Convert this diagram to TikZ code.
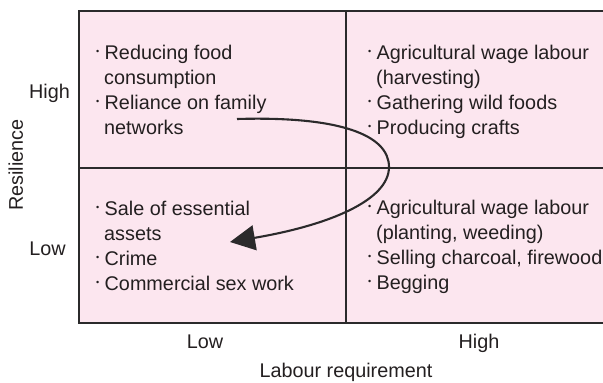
\documentclass[tikz,border=0pt]{standalone}
\usepackage{fontspec}
\setmainfont{Liberation Sans}
\usetikzlibrary{arrows.meta}
\definecolor{pinkfill}{HTML}{FCE6EF}
\definecolor{linegray}{HTML}{2B2A2B}
\definecolor{txt}{HTML}{231F20}
\newcommand{\bu}{\makebox[8.5pt][l]{\raisebox{4.5pt}{\fontsize{9}{9}\selectfont\textbullet}}}
\tikzset{
  lbl/.style={inner sep=0pt, text=txt, font=\fontsize{19.8}{19.8}\selectfont},
  line/.style={draw=linegray, line width=2.4pt},
  flow/.style={draw=linegray, line width=2.1pt, -{Triangle[length=25pt,width=25pt]}},
}
\begin{document}
\begin{tikzpicture}[x=1pt,y=-1pt]
\useasboundingbox (0,0) rectangle (603,383);
% panel
\fill[pinkfill] (79,11) rectangle (604,323);
\draw[line] (605,11) -- (79,11) -- (79,323) -- (605,323);
\draw[line] (346,11) -- (346,323);
\draw[line] (79,168) -- (605,168);
% top-left
\node[lbl, anchor=base west] (tl1) at (96,59) {\bu Reducing food};
\node[lbl, anchor=base west] (tl2) at (104,84) {consumption};
\node[lbl, anchor=base west] (tl3) at (96,109) {\bu Reliance on family};
\node[lbl, anchor=base west] (tl4) at (104,134) {networks};
% top-right
\node[lbl, anchor=base west] (tr1) at (368,59) {\bu Agricultural wage labour};
\node[lbl, anchor=base west] (tr2) at (376,84) {(harvesting)};
\node[lbl, anchor=base west] (tr3) at (368,109) {\bu Gathering wild foods};
\node[lbl, anchor=base west] (tr4) at (368,134) {\bu Producing crafts};
% bottom-left
\node[lbl, anchor=base west] (bl1) at (96,215) {\bu Sale of essential};
\node[lbl, anchor=base west] (bl2) at (104,240) {assets};
\node[lbl, anchor=base west] (bl3) at (96,265) {\bu Crime};
\node[lbl, anchor=base west] (bl4) at (96,290) {\bu Commercial sex work};
% bottom-right
\node[lbl, anchor=base west] (br1) at (368,214) {\bu Agricultural wage labour};
\node[lbl, anchor=base west] (br2) at (376,239) {(planting, weeding)};
\node[lbl, anchor=base west] (br3) at (368,264) {\bu Selling charcoal, firewood};
\node[lbl, anchor=base west] (br4) at (368,289) {\bu Begging};
% axes labels
\node[lbl, anchor=base east] (yhigh) at (70,98) {High};
\node[lbl, anchor=base east] (ylow) at (66,255) {Low};
\node[lbl, anchor=base, rotate=90] (ylab) at (23,165) {Resilience};
\node[lbl, anchor=base] (xlow) at (205,348) {Low};
\node[lbl, anchor=base] (xhigh) at (479,348) {High};
\node[lbl, anchor=base] (xlab) at (346,377) {Labour requirement};
% arrow
\coordinate (as) at (237,119);
\coordinate (am) at (389,167);
\coordinate (ae) at (230,242);
\draw[flow] (as) .. controls (340,116) and (389,135) .. (am)
            .. controls (389,200) and (330,225) .. (ae);
\end{tikzpicture}
\end{document}
